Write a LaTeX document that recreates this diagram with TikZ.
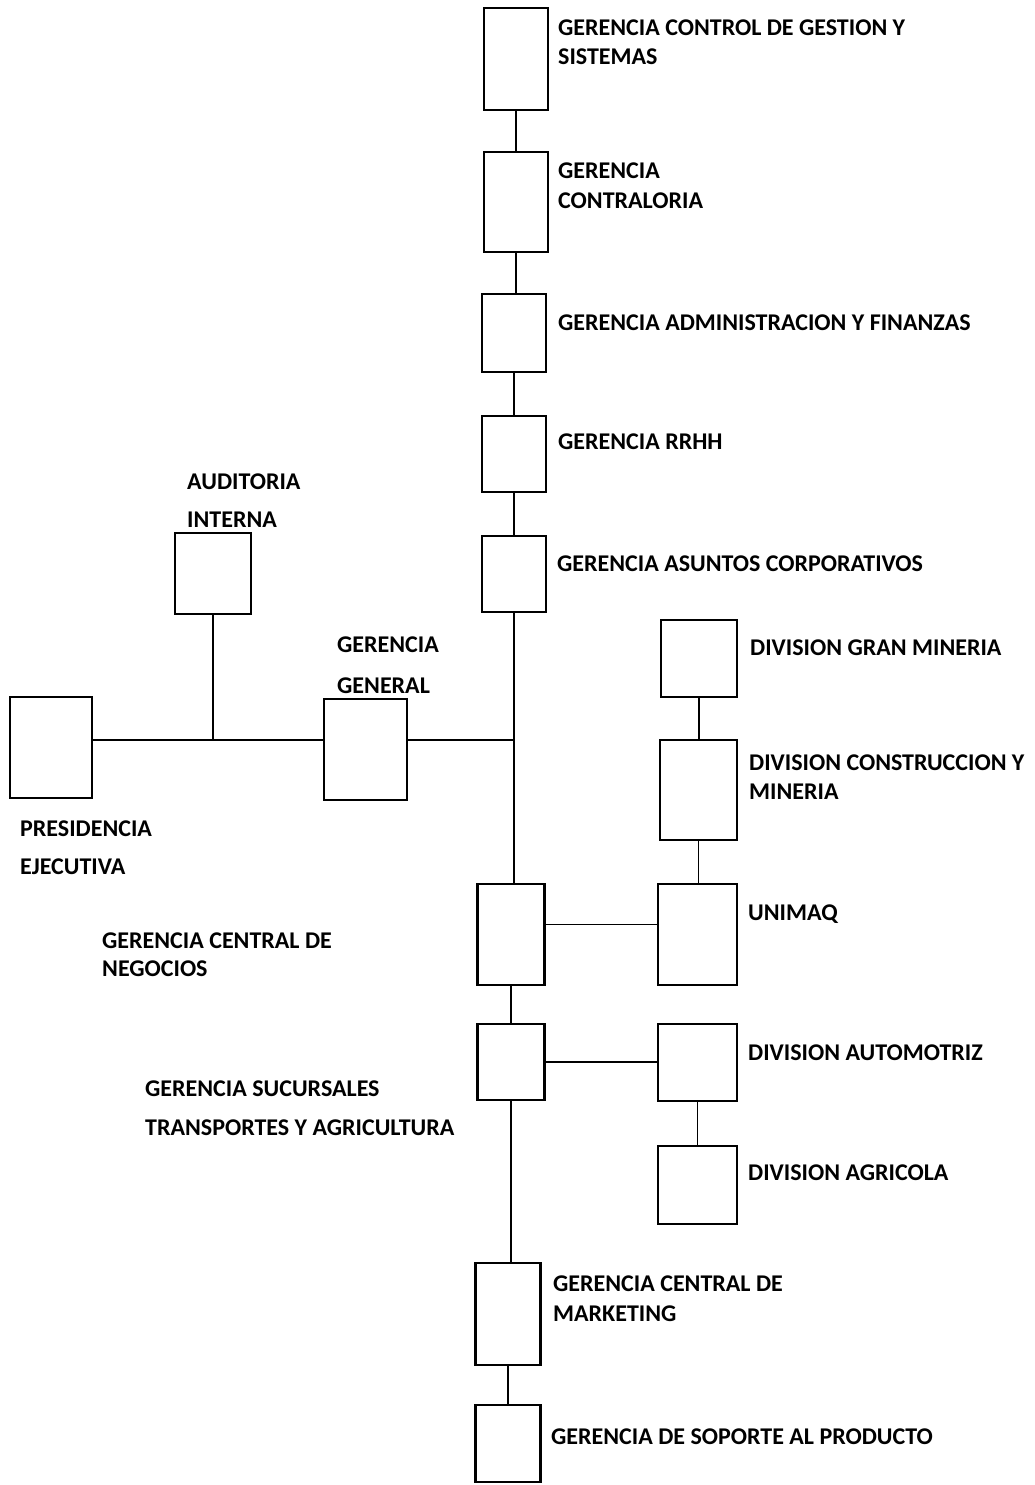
\documentclass[tikz,border=0pt]{standalone}
\usepackage{fontspec}
\setmainfont{Carlito}
\begin{document}
\begin{tikzpicture}[x=1pt,y=-1pt,
  box/.style={draw=black, line width=2.8pt, fill=white, inner sep=0pt, outer sep=0pt},
  lbl/.style={anchor=base west, inner sep=0pt, font=\fontsize{24}{28}\selectfont\bfseries},
  link/.style={line width=1.4pt, draw=black}]
\useasboundingbox (0,0) rectangle (1035,1485);
% boxes
\node[box, minimum width=64pt, minimum height=102pt] (cgs) at (516,59) {};
\node[box, minimum width=64pt, minimum height=100pt] (con) at (516,202) {};
\node[box, minimum width=64pt, minimum height=78pt] (adm) at (514,333) {};
\node[box, minimum width=64pt, minimum height=76pt] (rrhh) at (514,454) {};
\node[box, minimum width=64pt, minimum height=76pt] (asc) at (514,574) {};
\node[box, minimum width=76pt, minimum height=81pt] (aud) at (213,573.5) {};
\node[box, minimum width=82pt, minimum height=101pt] (pres) at (51,747.5) {};
\node[box, minimum width=83pt, minimum height=101pt] (gg) at (365.5,749.5) {};
\node[box, minimum width=67pt, minimum height=101pt] (gcn) at (511,934.5) {};
\node[box, minimum width=79pt, minimum height=101pt] (uni) at (697.5,934.5) {};
\node[box, minimum width=76pt, minimum height=77pt] (dgm) at (699,658.5) {};
\node[box, minimum width=77pt, minimum height=100pt] (dcm) at (698.5,790) {};
\node[box, minimum width=67pt, minimum height=76pt] (gsta) at (511,1062) {};
\node[box, minimum width=79pt, minimum height=77pt] (dau) at (697.5,1062.5) {};
\node[box, minimum width=79pt, minimum height=78pt] (dag) at (697.5,1185) {};
\node[box, minimum width=65pt, minimum height=102pt] (gcm) at (508,1314) {};
\node[box, minimum width=65pt, minimum height=77pt] (gsp) at (508,1443.5) {};
\coordinate (J) at (514,740);
% connectors
\draw[link] (cgs.south) -- (cgs.south |- con.north);
\draw[link] (con.south) -- (con.south |- adm.north);
\draw[link] (adm.south) -- (adm.south |- rrhh.north);
\draw[link] (rrhh.south) -- (rrhh.south |- asc.north);
\draw[link] (asc.south) -- (J) -- (J |- gcn.north);
\draw[link] (pres.east |- J) -- (gg.west |- J);
\draw[link] (gg.east |- J) -- (J);
\draw[link] (aud.south) -- (aud.south |- J);
\draw[link] ([yshift=10pt]gcn.east) -- ([yshift=10pt]uni.west);
\draw[link] (dgm.south) -- (dgm.south |- dcm.north);
\draw[link] (dcm.south) -- (dcm.south |- uni.north);
\draw[link] (gcn.south) -- (gcn.south |- gsta.north);
\draw[link] (gsta.east) -- (gsta.east -| dau.west);
\draw[link] (dau.south) -- (dau.south |- dag.north);
\draw[link] (gsta.south) -- (gsta.south |- gcm.north);
\draw[link] (gcm.south) -- (gcm.south |- gsp.north);
% labels
\node[lbl] (t1a) at (558,36) {GERENCIA CONTROL DE GESTION Y};
\node[lbl] (t1b) at (558,65) {SISTEMAS};
\node[lbl] (t2a) at (558,178) {GERENCIA};
\node[lbl] (t2b) at (558,208) {CONTRALORIA};
\node[lbl] (t3) at (558,330) {GERENCIA ADMINISTRACION Y FINANZAS};
\node[lbl] (t4) at (558,449) {GERENCIA RRHH};
\node[lbl] (t5) at (557,571) {GERENCIA ASUNTOS CORPORATIVOS};
\node[lbl] (t6a) at (187,489) {AUDITORIA};
\node[lbl] (t6b) at (187,527) {INTERNA};
\node[lbl] (t7a) at (337,652) {GERENCIA};
\node[lbl] (t7b) at (337,693) {GENERAL};
\node[lbl] (t8a) at (20,836) {PRESIDENCIA};
\node[lbl] (t8b) at (20,874) {EJECUTIVA};
\node[lbl] (t9) at (750,655) {DIVISION GRAN MINERIA};
\node[lbl] (t10a) at (749,770) {DIVISION CONSTRUCCION Y};
\node[lbl] (t10b) at (749,799) {MINERIA};
\node[lbl] (t11) at (748,920) {UNIMAQ};
\node[lbl] (t12a) at (102,948) {GERENCIA CENTRAL DE};
\node[lbl] (t12b) at (102,976) {NEGOCIOS};
\node[lbl] (t13) at (748,1060) {DIVISION AUTOMOTRIZ};
\node[lbl] (t14a) at (145,1096) {GERENCIA SUCURSALES};
\node[lbl] (t14b) at (145,1135) {TRANSPORTES Y AGRICULTURA};
\node[lbl] (t15) at (748,1180) {DIVISION AGRICOLA};
\node[lbl] (t16a) at (553,1291) {GERENCIA CENTRAL DE};
\node[lbl] (t16b) at (553,1321) {MARKETING};
\node[lbl] (t17) at (551,1444) {GERENCIA DE SOPORTE AL PRODUCTO};
\end{tikzpicture}
\end{document}
